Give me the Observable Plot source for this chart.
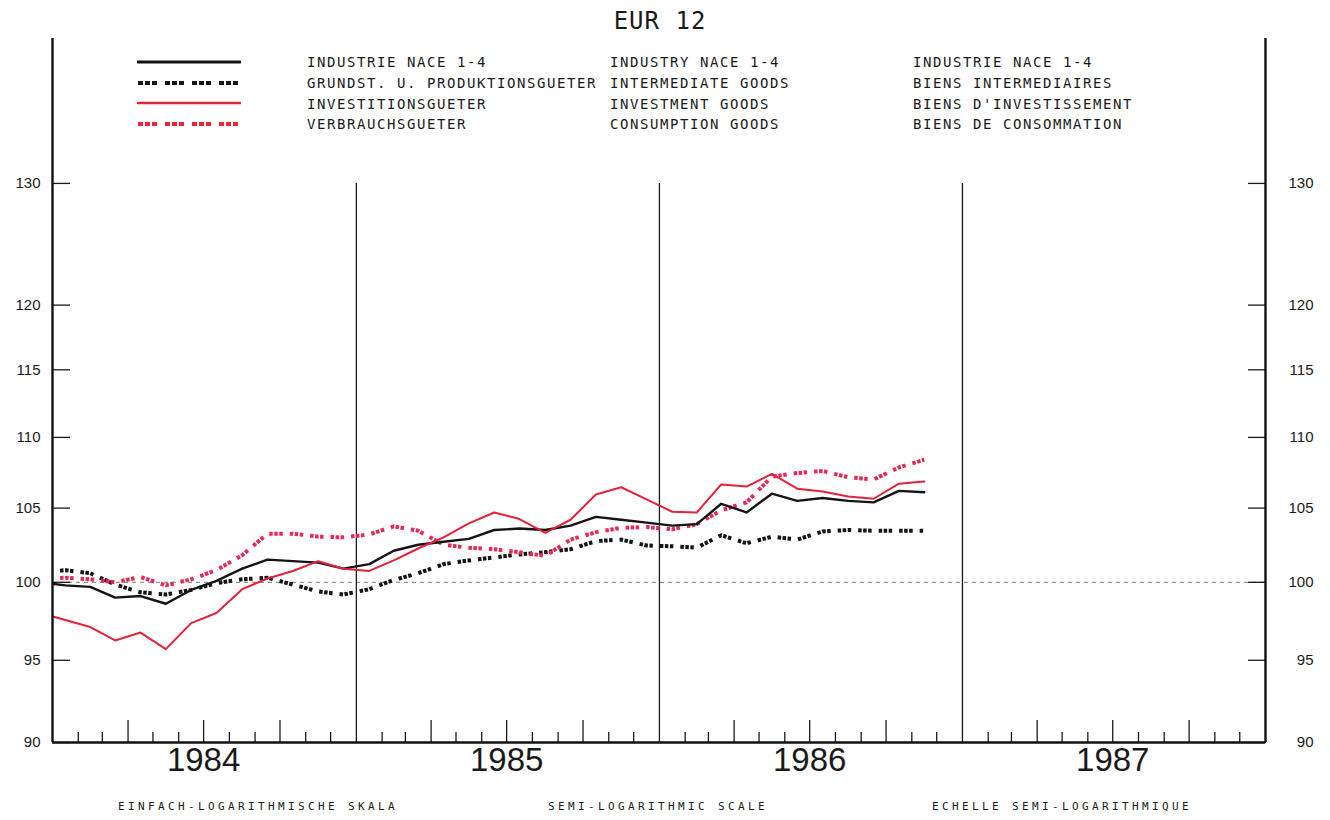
<!DOCTYPE html>
<html><head><meta charset="utf-8">
<script src="https://cdn.jsdelivr.net/npm/d3@7"></script>
<script src="https://cdn.jsdelivr.net/npm/@observablehq/plot@0.6"></script>
<style>
body{margin:0;background:#fff;}
#wrap{position:relative;width:1330px;height:820px;overflow:hidden;background:#fff;}
#chart{position:absolute;left:0;top:0;}
.t{position:absolute;font-family:"DejaVu Sans Mono",monospace;color:#1a1a1a;white-space:pre;line-height:1;}
</style></head><body>
<div id="wrap"><div id="chart"></div></div>
<script>
// ---- data ----
const title = "EUR 12";
const months = ["1983-12",
 "1984-01","1984-02","1984-03","1984-04","1984-05","1984-06","1984-07","1984-08","1984-09","1984-10","1984-11","1984-12",
 "1985-01","1985-02","1985-03","1985-04","1985-05","1985-06","1985-07","1985-08","1985-09","1985-10","1985-11","1985-12",
 "1986-01","1986-02","1986-03","1986-04","1986-05","1986-06","1986-07","1986-08","1986-09","1986-10","1986-11"];
const industry = [100.0, 99.8, 99.7, 99.0, 99.1, 98.6, 99.5, 100.1, 100.9, 101.5, 101.4, 101.3, 100.9,
 101.2, 102.1, 102.5, 102.7, 102.9, 103.5, 103.6, 103.5, 103.8, 104.4, 104.2, 104.0,
 103.8, 103.9, 105.3, 104.7, 106.0, 105.5, 105.7, 105.5, 105.4, 106.2, 106.1];
const intermediate = [100.65, 100.8, 100.6, 99.85, 99.35, 99.2, 99.5, 99.95, 100.2, 100.3, 99.85, 99.4, 99.2,
 99.55, 100.15, 100.6, 101.2, 101.45, 101.65, 101.85, 102.0, 102.2, 102.75, 102.85, 102.45,
 102.4, 102.3, 103.15, 102.6, 103.05, 102.85, 103.4, 103.5, 103.45, 103.45, 103.45];
const investment = [98.0, 97.55, 97.1, 96.25, 96.75, 95.7, 97.35, 98.0, 99.55, 100.25, 100.75, 101.4, 100.9,
 100.75, 101.45, 102.25, 103.0, 103.95, 104.7, 104.25, 103.3, 104.2, 105.95, 106.45, 105.6,
 104.75, 104.7, 106.65, 106.5, 107.4, 106.35, 106.15, 105.8, 105.65, 106.7, 106.85];
const consumption = [100.25, 100.3, 100.2, 100.0, 100.35, 99.8, 100.2, 100.8, 101.8, 103.25, 103.25, 103.05, 103.0,
 103.2, 103.75, 103.45, 102.5, 102.3, 102.2, 102.0, 101.75, 102.85, 103.35, 103.65, 103.7,
 103.55, 103.9, 104.85, 105.4, 107.2, 107.45, 107.6, 107.15, 107.0, 107.85, 108.4];
const legendDE = ["INDUSTRIE NACE 1-4","GRUNDST. U. PRODUKTIONSGUETER","INVESTITIONSGUETER","VERBRAUCHSGUETER"];
const legendEN = ["INDUSTRY NACE 1-4","INTERMEDIATE GOODS","INVESTMENT GOODS","CONSUMPTION GOODS"];
const legendFR = ["INDUSTRIE NACE 1-4","BIENS INTERMEDIAIRES","BIENS D'INVESTISSEMENT","BIENS DE CONSOMMATION"];
const yTicks = [90, 95, 100, 105, 110, 115, 120, 130];
const yearLabels = ["1984","1985","1986","1987"];
const captions = ["EINFACH-LOGARITHMISCHE SKALA","SEMI-LOGARITHMIC SCALE","ECHELLE SEMI-LOGARITHMIQUE"];

// ---- styles ----
const RED = "#e3223e", PINK = "#e62a55", BLACK = "#141414";
const dotsChart = "3.5,1.5,3.5,1.5,3.5,7";
const series = [
  {values: industry, stroke: BLACK, strokeWidth: 2.4, dash: null, legendDash: null, lw: 3},
  {values: intermediate, stroke: BLACK, strokeWidth: 4, dash: dotsChart, legendDash: "5,2,5,2,5,8", lw: 4},
  {values: investment, stroke: RED, strokeWidth: 2, dash: null, legendDash: null, lw: 2.6},
  {values: consumption, stroke: PINK, strokeWidth: 4, dash: dotsChart, legendDash: "5,2,5,2,5,8", lw: 4}
];

// ---- helpers ----
const midMonth = s => {
  const [y, m] = s.split("-").map(Number);
  const a = Date.UTC(y, m - 1, 1), b = Date.UTC(y, m, 1);
  return new Date((a + b) / 2);
};
const dates = months.map(midMonth);
const x0 = new Date(Date.UTC(+yearLabels[0], 0, 1));
const x1 = new Date(Date.UTC(+yearLabels[yearLabels.length - 1] + 1, 0, 1));
const yearStarts = yearLabels.slice(1).map(y => new Date(Date.UTC(+y, 0, 1)));
const yearMids = yearLabels.map(y => new Date(Date.UTC(+y, 6, 1)));
const allMonthStarts = d3.utcMonth.range(x0, x1).filter(d => d.getUTCMonth() !== 0);
const smallTicks = allMonthStarts.filter(d => d.getUTCMonth() % 3 !== 0);
const quarterTicks = allMonthStarts.filter(d => d.getUTCMonth() % 3 === 0);

const lineMarks = [1, 3, 0, 2].map(i => {
  const s = series[i];
  const data = dates.map((d, j) => ({date: d, value: s.values[j]}));
  return Plot.line(data, {x: "date", y: "value", stroke: s.stroke, strokeWidth: s.strokeWidth,
    strokeDasharray: s.dash || undefined, strokeLinejoin: "round", strokeLinecap: s.dash ? "butt" : "round", clip: true});
});

const chart = Plot.plot({
  width: 1330, height: 820,
  marginLeft: 52, marginRight: 65, marginTop: 38, marginBottom: 78,
  x: {type: "utc", domain: [x0, x1]},
  y: {type: "log", domain: [90, 143]},
  style: {background: "transparent", fontFamily: "Liberation Sans, Arial, sans-serif", color: "#1a1a1a"},
  marks: [
    Plot.ruleY([100], {stroke: "#777", strokeWidth: 1, strokeDasharray: "4,4"}),
    Plot.ruleX(yearStarts, {y1: 90, y2: 130, stroke: "#1a1a1a", strokeWidth: 1.3}),
    Plot.axisX(smallTicks, {anchor: "bottom", tickSize: 10, dy: -10, tickFormat: () => "", label: null, strokeWidth: 1.3}),
    Plot.axisX(quarterTicks, {anchor: "bottom", tickSize: 22, dy: -22, tickFormat: () => "", label: null, strokeWidth: 1.3}),
    Plot.axisY(yTicks, {anchor: "left", tickSize: 18, dx: 18, tickFormat: () => "", label: null, strokeWidth: 1.3}),
    Plot.axisY(yTicks, {anchor: "right", tickSize: 18, dx: -18, tickFormat: () => "", label: null, strokeWidth: 1.3}),
    Plot.axisY(yTicks, {anchor: "left", tickSize: 0, tickPadding: 12, fontSize: 15, tickFormat: d => String(d), label: null}),
    Plot.axisY(yTicks, {anchor: "right", tickSize: 0, tickPadding: 48, textAnchor: "end", fontSize: 15, tickFormat: d => String(d), label: null}),
    Plot.text(yearLabels, {x: d => new Date(Date.UTC(+d, 6, 1)), frameAnchor: "bottom", dy: 28, text: d => d, fontSize: 33, fill: "#1a1a1a"}),
    ...lineMarks,
    Plot.ruleX([x0, x1], {stroke: "#111", strokeWidth: 2.4}),
    Plot.ruleY([90], {stroke: "#111", strokeWidth: 2.4})
  ]
});
document.getElementById("chart").appendChild(chart);

// ---- overlays: title, legend, captions ----
const wrap = document.getElementById("wrap");
function addText(txt, left, centerY, size, ls, extra) {
  const el = document.createElement("div");
  el.className = "t";
  el.textContent = txt;
  el.style.fontSize = size + "px";
  el.style.letterSpacing = ls + "px";
  el.style.top = (centerY - 0.48 * size) + "px";
  if (left === "center") { el.style.left = "0"; el.style.width = "1320px"; el.style.textAlign = "center"; }
  else el.style.left = left + "px";
  if (extra) Object.assign(el.style, extra);
  wrap.appendChild(el);
  return el;
}
addText(title, "center", 21, 24, 1);
const rowY = i => 62 + i * 20.7;
series.forEach((s, i) => {
  const svg = document.createElementNS("http://www.w3.org/2000/svg", "svg");
  svg.setAttribute("width", 104); svg.setAttribute("height", 10);
  svg.style.position = "absolute"; svg.style.left = "137px"; svg.style.top = (rowY(i) - 5) + "px";
  const ln = document.createElementNS("http://www.w3.org/2000/svg", "line");
  ln.setAttribute("x1", 1); ln.setAttribute("x2", 103); ln.setAttribute("y1", 5); ln.setAttribute("y2", 5);
  ln.setAttribute("stroke", s.stroke === PINK ? "#ee2233" : s.stroke);
  ln.setAttribute("stroke-width", s.lw);
  if (s.legendDash) ln.setAttribute("stroke-dasharray", s.legendDash);
  else ln.setAttribute("stroke-linecap", "round");
  svg.appendChild(ln);
  wrap.appendChild(svg);
  addText(legendDE[i], 307, rowY(i), 14, 1.57);
  addText(legendEN[i], 610, rowY(i), 14, 1.57);
  addText(legendFR[i], 913, rowY(i), 14, 1.57);
});
[118, 548, 932].forEach((x, i) => addText(captions[i], x, 806, 11, 3.38));
</script>
</body></html>
